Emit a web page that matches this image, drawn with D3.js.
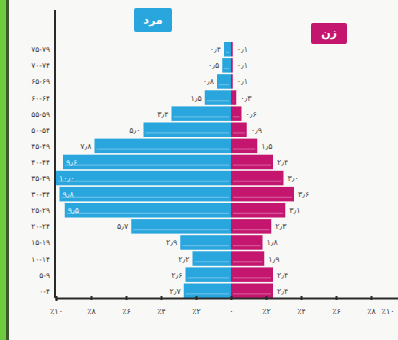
<!DOCTYPE html>
<html><head><meta charset="utf-8">
<script src="https://cdn.jsdelivr.net/npm/d3@7"></script>
<style>
html,body{margin:0;padding:0;background:#f8f8f6;}
svg{display:block;}
text{font-family:"DejaVu Sans","Noto Sans",sans-serif;}
</style></head>
<body>
<svg id="c" width="398" height="340"></svg>
<script>
// ---- data ----
const ages = ["۰-۴","۵-۹","۱۰-۱۴","۱۵-۱۹","۲۰-۲۴","۲۵-۲۹","۳۰-۳۴","۳۵-۳۹","۴۰-۴۴","۴۵-۴۹","۵۰-۵۴","۵۵-۵۹","۶۰-۶۴","۶۵-۶۹","۷۰-۷۴","۷۵-۷۹"];
// percent of total population, listed from youngest (0-4) to oldest
const male   = [2.7, 2.6, 2.2, 2.9, 5.7, 9.5, 9.8, 10.0, 9.6, 7.8, 5.0, 3.4, 1.5, 0.8, 0.5, 0.4];
const female = [2.4, 2.4, 1.9, 1.8, 2.3, 3.1, 3.6, 3.0, 2.4, 1.5, 0.9, 0.6, 0.3, 0.1, 0.1, 0.1];
const tickValues = [-10, -8, -6, -4, -2, 0, 2, 4, 6, 8, 10];
const maleName = "مرد";
const femaleName = "زن";

// ---- helpers ----
const fa = s => String(s).replace(/[0-9]/g, d => "۰۱۲۳۴۵۶۷۸۹"[d]).replace(".", "٫");
const fmt = v => fa(d3.format(".1f")(v));

const svg = d3.select("#c");
const blue = "#29a6de", pink = "#c4166f";

// photo edge artefact on the left
svg.append("rect").attr("x",0).attr("y",0).attr("width",6).attr("height",340).attr("fill","#6fcb3e");
svg.append("rect").attr("x",6).attr("y",0).attr("width",3).attr("height",340).attr("fill","#3c5a2e");

const x = d3.scaleLinear().domain([-10, 10]).range([56, 406]);
const y = d3.scaleBand().domain(ages.slice().reverse()).range([42, 298]).paddingInner(0.1);

const rows = ages.map((a,i)=>({age:a, m:male[i], f:female[i]}));

// bars
const g = svg.append("g");
g.selectAll("rect.m").data(rows).join("rect").attr("class","m")
  .attr("x", d=>x(-d.m)).attr("y", d=>y(d.age))
  .attr("width", d=>x(0)-x(-d.m)).attr("height", y.bandwidth())
  .attr("fill", blue);
g.selectAll("rect.f").data(rows).join("rect").attr("class","f")
  .attr("x", x(0)).attr("y", d=>y(d.age))
  .attr("width", d=>x(d.f)-x(0)).attr("height", y.bandwidth())
  .attr("fill", pink);
// light print streaks
g.selectAll("line.sm").data(rows).join("line").attr("class","sm")
  .attr("x1", d=>x(-d.m)+2).attr("x2", x(0)-2)
  .attr("y1", d=>y(d.age)+y.bandwidth()*0.72).attr("y2", d=>y(d.age)+y.bandwidth()*0.72)
  .attr("stroke","#ffffff").attr("stroke-opacity",0.28).attr("stroke-width",1.2);
g.selectAll("line.sf").data(rows).join("line").attr("class","sf")
  .attr("x1", x(0)+2).attr("x2", d=>Math.max(x(0)+2, x(d.f)-2))
  .attr("y1", d=>y(d.age)+y.bandwidth()*0.72).attr("y2", d=>y(d.age)+y.bandwidth()*0.72)
  .attr("stroke","#ffffff").attr("stroke-opacity",0.28).attr("stroke-width",1.2);

// value labels
g.selectAll("text.vm").data(rows).join("text").attr("class","vm")
  .attr("x", d=> d.m >= 9 ? x(-d.m)+3 : x(-d.m)-3)
  .attr("y", d=>y(d.age)+y.bandwidth()/2+3)
  .attr("text-anchor", d=> d.m >= 9 ? "start" : "end")
  .attr("font-size", 8).attr("fill", d=> d.m >= 9 ? "#e8f6ff" : "#444")
  .text(d=>fmt(d.m));
g.selectAll("text.vf").data(rows).join("text").attr("class","vf")
  .attr("x", d=>x(d.f)+4)
  .attr("y", d=>y(d.age)+y.bandwidth()/2+3)
  .attr("text-anchor","start").attr("font-size", 8).attr("fill","#444")
  .text(d=>fmt(d.f));

// y axis
svg.append("line").attr("x1",55).attr("x2",55).attr("y1",10).attr("y2",298)
  .attr("stroke","#2a2a2a").attr("stroke-width",2);
svg.selectAll("text.age").data(ages).join("text").attr("class","age")
  .attr("x", 50).attr("y", d=>y(d)+y.bandwidth()/2+3)
  .attr("text-anchor","end").attr("font-size",7.5).attr("fill","#333")
  .text(d=>d);

// x axis
const xa = svg.append("g").attr("transform","translate(0,298)")
  .call(d3.axisBottom(x).tickValues(tickValues).tickSize(3)
    .tickFormat(v => v===0 ? "۰" : "٪" + fa(Math.abs(v))));
xa.select(".domain").attr("stroke","#2a2a2a").attr("stroke-width",2);
xa.selectAll(".tick line").attr("stroke","#2a2a2a").attr("stroke-width",2).attr("y1",-2).attr("y2",2);
xa.selectAll(".tick text").attr("font-size",8).attr("fill","#333").attr("dy","1.3em")
  .style("font-family","DejaVu Sans")
  .attr("text-anchor", v => v===10 ? "end" : "middle")
  .attr("dx", v => v===10 ? -12 : 0);

// legend boxes
const lg = svg.append("g");
lg.append("rect").attr("x",134).attr("y",8).attr("width",38).attr("height",24).attr("rx",2).attr("fill",blue);
lg.append("text").attr("x",153).attr("y",24).attr("text-anchor","middle").attr("font-size",11)
  .attr("fill","#fff").attr("font-weight","bold").text(maleName);
lg.append("rect").attr("x",311).attr("y",23).attr("width",36).attr("height",21).attr("rx",2).attr("fill",pink);
lg.append("text").attr("x",329).attr("y",37).attr("text-anchor","middle").attr("font-size",11)
  .attr("fill","#fff").attr("font-weight","bold").text(femaleName);
</script>
</body></html>
